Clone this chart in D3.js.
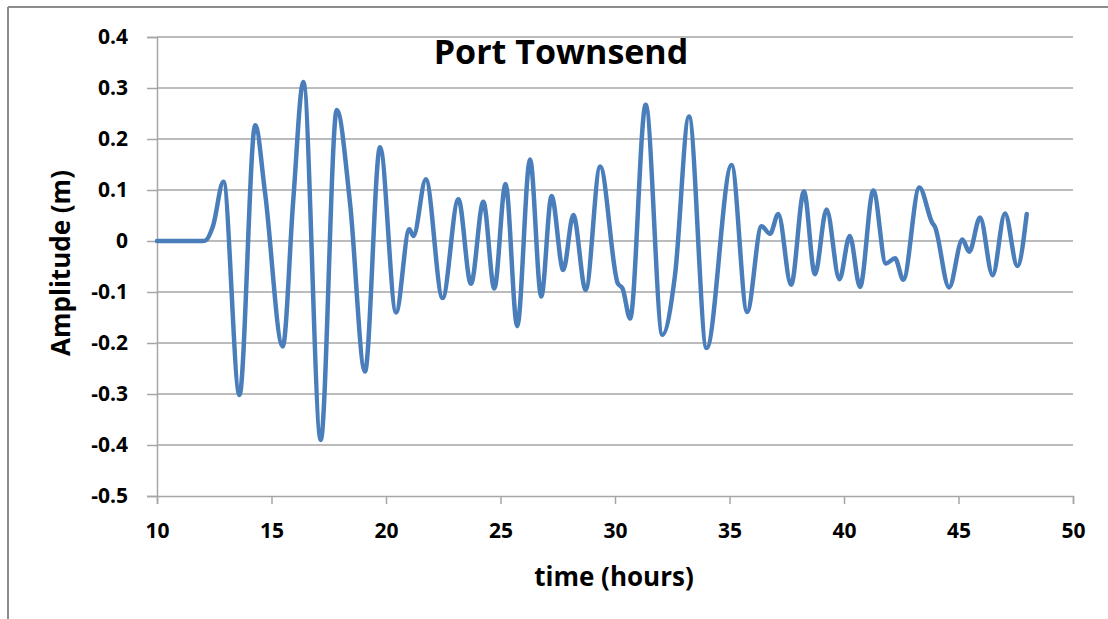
<!DOCTYPE html>
<html>
<head>
<meta charset="utf-8">
<script src="https://cdn.jsdelivr.net/npm/d3@7"></script>
<style>
  html, body { margin: 0; padding: 0; background: #fff; }
  svg { display: block; }
  text { font-family: "Open Sans", "Lato", "Liberation Sans", sans-serif; }
</style>
</head>
<body>
<svg id="chart" width="1108" height="619"></svg>
<script>
// Data
const title = "Port Townsend";
const xLabel = "time (hours)";
const yLabel = "Amplitude (m)";
const xTicks = [10, 15, 20, 25, 30, 35, 40, 45, 50];
const yTicks = [0.4, 0.3, 0.2, 0.1, 0, -0.1, -0.2, -0.3, -0.4, -0.5];
const timeHours = [
  10, 11, 12, 12.12, 12.45, 12.9, 13.6, 14.29, 14.72, 15.49, 15.95, 16.39, 17.15, 17.85, 18.43,
  19.08, 19.74, 20.44, 21.02, 21.2, 21.74, 22.47, 23.16, 23.71, 24.25, 24.73, 25.22, 25.73,
  26.29, 26.78, 27.23, 27.74, 28.18, 28.72, 29.35, 30.12, 30.33, 30.66, 31.34, 32.07, 32.62,
  33.23, 34.0, 35.09, 35.77, 36.4, 36.77, 37.13, 37.69, 38.25, 38.73, 39.24, 39.8, 40.25,
  40.7, 41.28, 41.83, 42.23, 42.59, 43.29, 43.85, 43.97, 44.59, 45.17, 45.47, 45.94, 46.49,
  47.03, 47.57, 47.98
];
const amplitude = [
  0, 0, 0, 0.001, 0.03, 0.116, -0.302, 0.227, 0.094, -0.207, 0.08, 0.312, -0.39, 0.257, 0.074,
  -0.256, 0.184, -0.14, 0.023, 0.01, 0.121, -0.112, 0.082, -0.084, 0.077, -0.093, 0.112, -0.167,
  0.16, -0.109, 0.088, -0.057, 0.051, -0.096, 0.146, -0.083, -0.093, -0.152, 0.267, -0.184, -0.067,
  0.244, -0.21, 0.149, -0.139, 0.029, 0.014, 0.053, -0.086, 0.097, -0.065, 0.062, -0.075, 0.01,
  -0.09, 0.099, -0.044, -0.034, -0.076, 0.105, 0.036, 0.028, -0.091, 0.003, -0.021, 0.046, -0.067,
  0.054, -0.049, 0.053
];

const svg = d3.select("#chart");
const W = 1108, H = 619;

// Outer frame (top and left edges visible)
svg.append("line").attr("x1", 8).attr("x2", W).attr("y1", 7).attr("y2", 7)
  .attr("stroke", "#8c8c8c").attr("stroke-width", 2);
svg.append("line").attr("x1", 8).attr("x2", 8).attr("y1", 7).attr("y2", H)
  .attr("stroke", "#8c8c8c").attr("stroke-width", 2);

const plot = { left: 157, right: 1073, top: 37, bottom: 496 };
const x = d3.scaleLinear().domain([10, 50]).range([plot.left, plot.right]);
const y = d3.scaleLinear().domain([-0.5, 0.4]).range([plot.bottom, plot.top]);

// Gridlines
svg.append("g")
  .selectAll("line").data(yTicks.filter(d => d !== -0.5)).join("line")
  .attr("x1", plot.left).attr("x2", plot.right)
  .attr("y1", d => y(d)).attr("y2", d => y(d))
  .attr("stroke", "#a6a6a6").attr("stroke-width", 1.5);

const fmtY = d => d === 0 ? "0" : d3.format(".1f")(d).replace("\u2212", "-");

// Y axis
const yAxis = svg.append("g").attr("transform", `translate(${plot.left},0)`)
  .call(d3.axisLeft(y).tickValues(yTicks).tickSize(10).tickPadding(19).tickFormat(fmtY));
yAxis.select(".domain").attr("stroke", "#a6a6a6").attr("stroke-width", 1.5);
yAxis.selectAll(".tick line").attr("stroke", "#a6a6a6").attr("stroke-width", 1.5);
yAxis.selectAll(".tick text").attr("font-size", 21).attr("font-weight", "bold")
  .attr("fill", "#000").attr("font-family", "'Open Sans', sans-serif");

// X axis
const xAxis = svg.append("g").attr("transform", `translate(0,${plot.bottom})`)
  .call(d3.axisBottom(x).tickValues(xTicks).tickSize(8).tickPadding(19)
    .tickFormat(d3.format("d")));
xAxis.select(".domain").attr("stroke", "#a6a6a6").attr("stroke-width", 1.5);
xAxis.selectAll(".tick line").attr("stroke", "#a6a6a6").attr("stroke-width", 1.5);
xAxis.selectAll(".tick text").attr("font-size", 21).attr("font-weight", "bold")
  .attr("fill", "#000").attr("font-family", "'Open Sans', sans-serif");

// Line
const pts = timeHours.map((t, i) => [t, amplitude[i]]);
const line = d3.line().x(d => x(d[0])).y(d => y(d[1])).curve(d3.curveMonotoneX);
svg.append("path").datum(pts).attr("d", line)
  .attr("fill", "none").attr("stroke", "#4a7ebb").attr("stroke-width", 4.5)
  .attr("stroke-linejoin", "round").attr("stroke-linecap", "round");

// Title
svg.append("text").attr("x", 561).attr("y", 64).attr("text-anchor", "middle")
  .attr("font-size", 34).attr("font-weight", "bold").attr("fill", "#000")
  .text(title);

// Axis titles
svg.append("text").attr("x", 614).attr("y", 586).attr("text-anchor", "middle")
  .attr("font-size", 26).attr("font-weight", "bold").attr("fill", "#000")
  .text(xLabel);
svg.append("text").attr("transform", "translate(70,263) rotate(-90)")
  .attr("text-anchor", "middle")
  .attr("font-size", 26).attr("font-weight", "bold").attr("fill", "#000")
  .text(yLabel);
</script>
</body>
</html>
